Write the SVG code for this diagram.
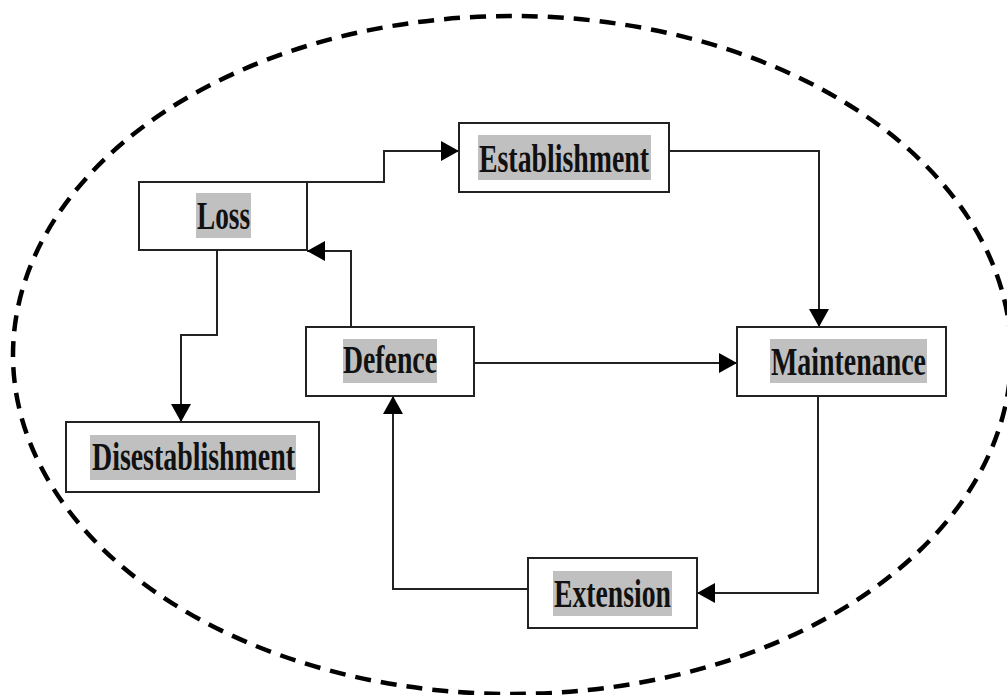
<svg xmlns="http://www.w3.org/2000/svg" width="1007" height="695" viewBox="0 0 1007 695">
<style>
.box{fill:#fff;stroke:#222;stroke-width:2}
.hl{fill:#c0c0c0}
.lbl{font-family:"Liberation Serif","Times New Roman",serif;font-weight:bold;font-size:40px;fill:#111}
.con{fill:none;stroke:#222;stroke-width:2}
</style>
<defs>
<marker id="ah" markerUnits="userSpaceOnUse" markerWidth="18" markerHeight="20" refX="18" refY="10" orient="auto">
<path d="M0,0 L18,10 L0,20 z" fill="#000"/>
</marker>
</defs>
<rect width="1007" height="695" fill="#fff"/>
<ellipse cx="512" cy="355" rx="499" ry="339" fill="none" stroke="#000" stroke-width="4.5" stroke-dasharray="16 10"/>
<g id="connectors">
<path class="con" d="M307,182 H384 V151 H459" marker-end="url(#ah)"/>
<path class="con" d="M669,151 H819 V327" marker-end="url(#ah)"/>
<path class="con" d="M474,363 H737" marker-end="url(#ah)"/>
<path class="con" d="M351,327 V251 H307" marker-end="url(#ah)"/>
<path class="con" d="M217,250 V335 H181 V422" marker-end="url(#ah)"/>
<path class="con" d="M818,396 V593 H697" marker-end="url(#ah)"/>
<path class="con" d="M528,589 H393 V396" marker-end="url(#ah)"/>
</g>
<g id="loss">
<rect class="box" x="139" y="182" width="168" height="68"/>
<rect class="hl" x="196" y="193" width="55" height="45"/>
<text class="lbl" x="197" y="229" textLength="53" lengthAdjust="spacingAndGlyphs">Loss</text>
</g>
<g id="establishment">
<rect class="box" x="459" y="123" width="210" height="69"/>
<rect class="hl" x="478" y="135" width="173" height="45"/>
<text class="lbl" x="479" y="172" textLength="170" lengthAdjust="spacingAndGlyphs">Establishment</text>
</g>
<g id="defence">
<rect class="box" x="306" y="327" width="168" height="69"/>
<rect class="hl" x="343" y="339" width="94" height="44"/>
<text class="lbl" x="343" y="373" textLength="94" lengthAdjust="spacingAndGlyphs">Defence</text>
</g>
<g id="maintenance">
<rect class="box" x="737" y="327" width="209" height="69"/>
<rect class="hl" x="770" y="339" width="157" height="44"/>
<text class="lbl" x="771" y="375" textLength="155" lengthAdjust="spacingAndGlyphs">Maintenance</text>
</g>
<g id="disestablishment">
<rect class="box" x="66" y="422" width="253" height="70"/>
<rect class="hl" x="90" y="435" width="206" height="45"/>
<text class="lbl" x="92" y="470" textLength="203" lengthAdjust="spacingAndGlyphs">Disestablishment</text>
</g>
<g id="extension">
<rect class="box" x="528" y="558" width="169" height="70"/>
<rect class="hl" x="553" y="571" width="119" height="45"/>
<text class="lbl" x="554" y="607" textLength="117" lengthAdjust="spacingAndGlyphs">Extension</text>
</g>
</svg>
